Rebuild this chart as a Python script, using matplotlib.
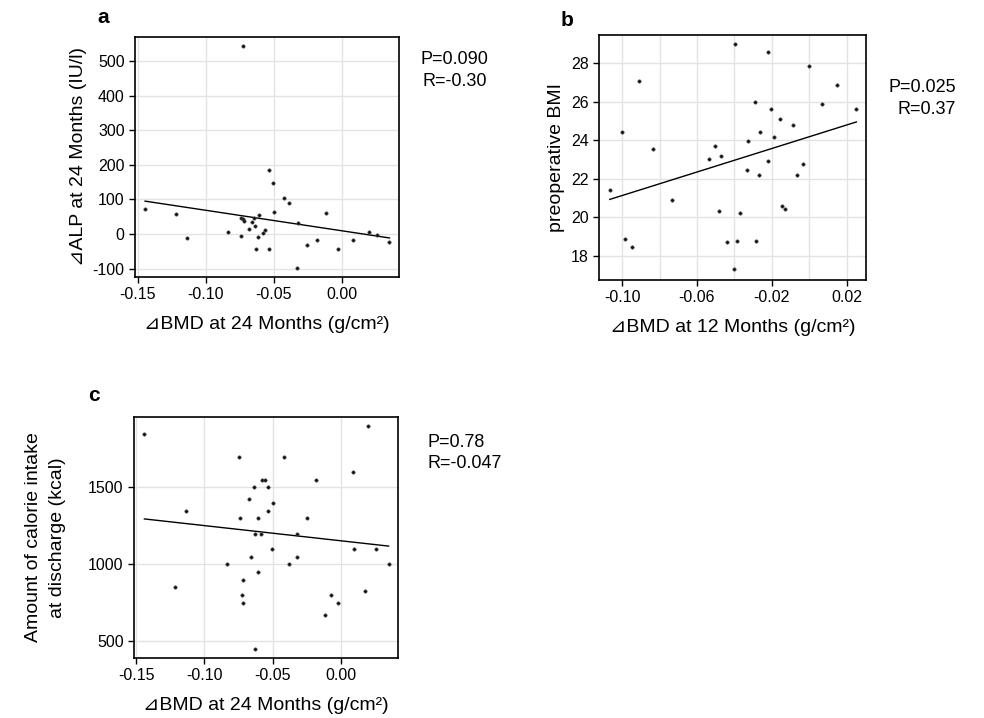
import numpy as np
import matplotlib
matplotlib.use('Agg')
import matplotlib.pyplot as plt

plt.rcParams['font.family'] = ['Liberation Sans', 'DejaVu Sans']
plt.rcParams['axes.unicode_minus'] = False

# Panel a: dBMD 24 months vs dALP 24 months
a_x = [-0.0723, -0.1446, -0.1218, -0.1140, -0.0836, -0.0743, -0.0723, -0.0721, -0.0743,
       -0.0681, -0.0662, -0.0647, -0.0637, -0.0632, -0.0613, -0.0610, -0.0576, -0.0564,
       -0.0537, -0.0534, -0.0507, -0.0498, -0.0422, -0.0387, -0.0324, -0.0326, -0.0255,
       -0.0184, -0.0118, -0.0025, 0.0083, 0.0196, 0.0257, 0.0350]
a_y = [543, 72, 57, -12, 5, 47, 44, 39, -5, 14, 34, 45, 22, -43, -9, 56, 4, 13, -44,
       184, 146, 64, 105, 89, 31, -99, -33, -17, 62, -42, -17, 7, -3, -23]

# Panel b: dBMD 12 months vs preoperative BMI
b_x = [-0.1066, -0.1000, -0.0986, -0.0948, -0.0911, -0.0833, -0.0733, -0.0534, -0.0506,
       -0.0481, -0.0472, -0.0442, -0.0404, -0.0399, -0.0385, -0.0369, -0.0333, -0.0328,
       -0.0292, -0.0282, -0.0269, -0.0264, -0.0221, -0.0218, -0.0207, -0.0191, -0.0156,
       -0.0143, -0.0127, -0.0088, -0.0065, -0.0036, -0.0003, 0.0067, 0.0148, 0.0252]
b_y = [21.40, 24.43, 18.88, 18.43, 27.05, 23.53, 20.88, 23.04, 23.67, 20.31, 23.20,
       18.69, 17.29, 28.99, 18.78, 20.22, 22.47, 23.94, 25.97, 18.78, 22.18, 24.43,
       22.94, 28.59, 25.64, 24.15, 25.11, 20.57, 20.41, 24.79, 22.21, 22.75, 27.83,
       25.87, 26.84, 25.64]

# Panel c: dBMD 24 months vs calorie intake at discharge
c_x = [-0.1439, -0.1212, -0.1134, -0.0832, -0.0744, -0.0739, -0.0717, -0.0722, -0.0717,
       -0.0678, -0.0661, -0.0641, -0.0634, -0.0632, -0.0612, -0.0607, -0.0585, -0.0576,
       -0.0561, -0.0537, -0.0532, -0.0505, -0.0498, -0.0422, -0.0385, -0.0327, -0.0322,
       -0.0254, -0.0183, -0.0117, -0.0078, -0.0024, 0.0083, 0.0093, 0.0173, 0.0193,
       0.0254, 0.0346]
c_y = [1850, 850, 1350, 1000, 1700, 1300, 898, 798, 748, 1424, 1048, 1500, 1200, 450,
       1300, 948, 1200, 1550, 1550, 1350, 1500, 1098, 1400, 1700, 1000, 1200, 1048,
       1300, 1550, 672, 798, 748, 1600, 1098, 824, 1900, 1098, 1000]

bmd24_label = '⊿BMD at 24 Months (g/cm²)'
bmd12_label = '⊿BMD at 12 Months (g/cm²)'


def style_axes(ax):
    for s in ax.spines.values():
        s.set_color('black')
        s.set_linewidth(1.2)
    ax.grid(True, which='both', color='#e3e3e3', linewidth=1)
    ax.set_axisbelow(True)
    ax.tick_params(which='major', direction='out', length=4, width=1,
                   labelsize=11.5, colors='black', top=False, right=False)
    ax.tick_params(which='minor', length=0)


def scatter_fit(ax, x, y):
    x = np.array(x)
    y = np.array(y)
    ax.scatter(x, y, s=6, facecolor='#111111', edgecolor='#555555', linewidth=0.4, zorder=3)
    k, b = np.polyfit(x, y, 1)
    xs = np.array([x.min(), x.max()])
    ax.plot(xs, k * xs + b, color='black', linewidth=1, zorder=2)


fig = plt.figure(figsize=(9.84, 7.18), dpi=100)

# a
ax = fig.add_axes([0.1372, 0.6142, 0.2683, 0.3343])
scatter_fit(ax, a_x, a_y)
ax.set_xlim(-0.152, 0.042)
ax.set_ylim(-124, 569)
ax.set_xticks([-0.15, -0.10, -0.05, 0.00])
ax.set_xticklabels(['-0.15', '-0.10', '-0.05', '0.00'])
ax.set_yticks([-100, 0, 100, 200, 300, 400, 500])
style_axes(ax)
ax.set_xlabel(bmd24_label, fontsize=14, labelpad=10)
ax.set_ylabel('⊿ALP at 24 Months (IU/l)', fontsize=14)
ax.text(-0.12, 1.04, 'a', transform=ax.transAxes, fontsize=15, fontweight='bold',
        ha='center', va='bottom')
ax.text(1.21, 0.94, 'P=0.090\nR=-0.30', transform=ax.transAxes, fontsize=13,
        ha='center', va='top', multialignment='center', linespacing=1.35)

# b
ax = fig.add_axes([0.6087, 0.6100, 0.2713, 0.3412])
scatter_fit(ax, b_x, b_y)
ax.set_xlim(-0.1124, 0.0303)
ax.set_ylim(16.73, 29.46)
ax.set_xticks([-0.10, -0.06, -0.02, 0.02])
ax.set_xticklabels(['-0.10', '-0.06', '-0.02', '0.02'])
ax.set_xticks([-0.08, -0.04, 0.00], minor=True)
ax.set_yticks([18, 20, 22, 24, 26, 28])
style_axes(ax)
ax.set_xlabel(bmd12_label, fontsize=14, labelpad=10)
ax.set_ylabel('preoperative BMI', fontsize=14)
ax.text(-0.12, 1.02, 'b', transform=ax.transAxes, fontsize=15, fontweight='bold',
        ha='center', va='bottom')
ax.text(1.21, 0.82, 'P=0.025\nR=0.37', transform=ax.transAxes, fontsize=13,
        ha='center', va='top', multialignment='right', linespacing=1.35)

# c
ax = fig.add_axes([0.1362, 0.0836, 0.2683, 0.3357])
scatter_fit(ax, c_x, c_y)
ax.set_xlim(-0.1515, 0.0415)
ax.set_ylim(391, 1959)
ax.set_xticks([-0.15, -0.10, -0.05, 0.00])
ax.set_xticklabels(['-0.15', '-0.10', '-0.05', '0.00'])
ax.set_yticks([500, 1000, 1500])
style_axes(ax)
ax.set_xlabel(bmd24_label, fontsize=14, labelpad=10)
ax.set_ylabel('Amount of calorie intake\nat discharge (kcal)', fontsize=14,
              labelpad=16, linespacing=1.5)
ax.text(-0.15, 1.05, 'c', transform=ax.transAxes, fontsize=15, fontweight='bold',
        ha='center', va='bottom')
ax.text(1.11, 0.93, 'P=0.78\nR=-0.047', transform=ax.transAxes, fontsize=13,
        ha='left', va='top', linespacing=1.35)

fig.savefig('out.png', dpi=100)
